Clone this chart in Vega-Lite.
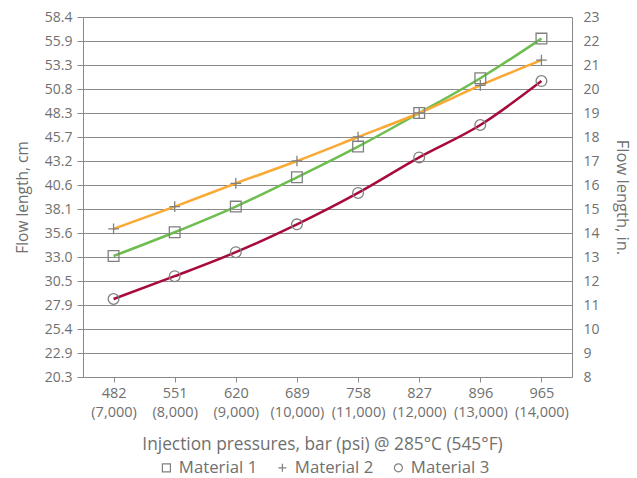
{
  "$schema": "https://vega.github.io/schema/vega-lite/v6.json",
  "width": 489,
  "height": 360,
  "autosize": {"type": "none"},
  "padding": {"left": 83, "top": 17, "right": 65, "bottom": 101},
  "background": "white",
  "config": {
    "font": "Open Sans",
    "view": {"stroke": null},
    "axis": {
      "labelColor": "#707070",
      "titleColor": "#707070",
      "labelFontSize": 14,
      "titleFontSize": 16,
      "titleFontWeight": "normal",
      "domainColor": "#8a8a8a",
      "tickColor": "#8a8a8a",
      "gridColor": "#8a8a8a",
      "gridOpacity": 1
    },
    "legend": {"labelColor": "#707070", "labelFontSize": 16.8}
  },
  "data": {
    "values": [
      {"pressure": "482\n(7,000)", "material": "Material 1", "inches": 13.04},
      {"pressure": "551\n(8,000)", "material": "Material 1", "inches": 14.03},
      {"pressure": "620\n(9,000)", "material": "Material 1", "inches": 15.1},
      {"pressure": "689\n(10,000)", "material": "Material 1", "inches": 16.32},
      {"pressure": "758\n(11,000)", "material": "Material 1", "inches": 17.6},
      {"pressure": "827\n(12,000)", "material": "Material 1", "inches": 19.0},
      {"pressure": "896\n(13,000)", "material": "Material 1", "inches": 20.45},
      {"pressure": "965\n(14,000)", "material": "Material 1", "inches": 22.1},
      {"pressure": "482\n(7,000)", "material": "Material 2", "inches": 14.17},
      {"pressure": "551\n(8,000)", "material": "Material 2", "inches": 15.1},
      {"pressure": "620\n(9,000)", "material": "Material 2", "inches": 16.07},
      {"pressure": "689\n(10,000)", "material": "Material 2", "inches": 17.0},
      {"pressure": "758\n(11,000)", "material": "Material 2", "inches": 18.0},
      {"pressure": "827\n(12,000)", "material": "Material 2", "inches": 19.0},
      {"pressure": "896\n(13,000)", "material": "Material 2", "inches": 20.15},
      {"pressure": "965\n(14,000)", "material": "Material 2", "inches": 21.2},
      {"pressure": "482\n(7,000)", "material": "Material 3", "inches": 11.25},
      {"pressure": "551\n(8,000)", "material": "Material 3", "inches": 12.2},
      {"pressure": "620\n(9,000)", "material": "Material 3", "inches": 13.2},
      {"pressure": "689\n(10,000)", "material": "Material 3", "inches": 14.36},
      {"pressure": "758\n(11,000)", "material": "Material 3", "inches": 15.67},
      {"pressure": "827\n(12,000)", "material": "Material 3", "inches": 17.15},
      {"pressure": "896\n(13,000)", "material": "Material 3", "inches": 18.5},
      {"pressure": "965\n(14,000)", "material": "Material 3", "inches": 20.33}
    ]
  },
  "encoding": {
    "x": {
      "field": "pressure",
      "type": "ordinal",
      "sort": null,
      "scale": {"type": "point", "padding": 0.5},
      "axis": {
        "labelAngle": 0,
        "labelExpr": "split(datum.label, '\\n')",
        "labelFontSize": 14.5,
        "labelPadding": 4,
        "labelLineHeight": 19,
        "tickSize": 5,
        "grid": false,
        "title": "Injection pressures, bar (psi) @ 285°C (545°F)",
        "titleFontSize": 17.3,
        "titleX": 239,
        "titlePadding": 17
      }
    }
  },
  "layer": [
    {
      "mark": {"type": "line", "strokeWidth": 2.5, "interpolate": "monotone"},
      "encoding": {
        "y": {
          "field": "inches",
          "type": "quantitative",
          "scale": {"domain": [8, 23], "nice": false, "zero": false},
          "axis": {
            "orient": "left",
            "values": [8, 9, 10, 11, 12, 13, 14, 15, 16, 17, 18, 19, 20, 21, 22, 23],
            "labelExpr": "format(datum.value * 2.54, '.1f')",
            "grid": true,
            "tickSize": 6,
            "labelPadding": 5,
            "title": "Flow length, cm",
            "titleFontSize": 15.5,
            "titlePadding": 14
          }
        },
        "color": {
          "field": "material",
          "type": "nominal",
          "scale": {"domain": ["Material 1", "Material 2", "Material 3"], "range": ["#6dbd4f", "#f9a934", "#a80a3a"]},
          "legend": null
        }
      }
    },
    {
      "mark": {"type": "point", "filled": false, "color": "#808080", "strokeWidth": 1.3, "size": 115, "opacity": 1},
      "encoding": {
        "y": {
          "field": "inches",
          "type": "quantitative",
          "axis": {
            "orient": "right",
            "values": [8, 9, 10, 11, 12, 13, 14, 15, 16, 17, 18, 19, 20, 21, 22, 23],
            "grid": false,
            "ticks": false,
            "labelPadding": 11,
            "title": "Flow length, in.",
            "titleFontSize": 16.5,
            "titlePadding": 14
          }
        },
        "shape": {
          "field": "material",
          "type": "nominal",
          "scale": {"domain": ["Material 1", "Material 2", "Material 3"], "range": ["square", "M-1,0H1M0,-1V1", "circle"]},
          "legend": {
            "title": null,
            "orient": "none",
            "direction": "horizontal",
            "legendX": 75,
            "legendY": 442,
            "symbolSize": 64,
            "symbolStrokeColor": "#808080",
            "symbolStrokeWidth": 1.2,
            "symbolFillColor": "transparent",
            "labelOffset": 4,
            "columnPadding": 16
          }
        }
      }
    }
  ],
  "resolve": {"axis": {"y": "independent"}, "legend": {"color": "independent", "shape": "independent"}}
}
